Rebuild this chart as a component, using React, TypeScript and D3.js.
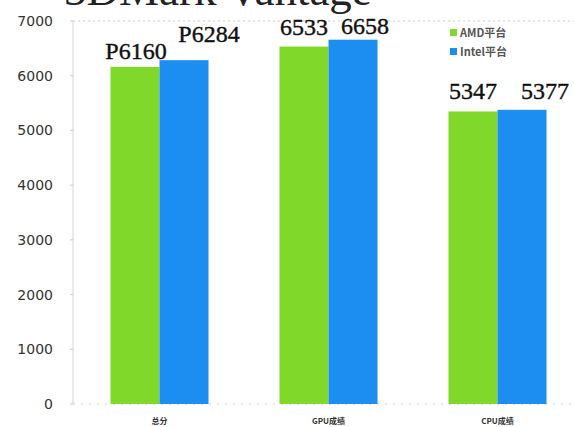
import React from "react";
import * as d3 from "d3";

const categories = ["总分", "GPU成绩", "CPU成绩"];
const seriesNames = ["AMD平台", "Intel平台"];
const amdValues = [6160, 6533, 5347];
const intelValues = [6284, 6658, 5377];
const amdLabels = ["P6160", "6533", "5347"];
const intelLabels = ["P6284", "6658", "5377"];
const yTicks = [0, 1000, 2000, 3000, 4000, 5000, 6000, 7000];
const title = "3DMark Vantage";

const W = 574;
const H = 427;
const colors = ["#7fd82a", "#1c8ef2"];
// label offsets (style only): [dx, dy] relative to bar center/top
const amdOffsets = [[1, -8], [0, -12], [0, -12]];
const intelOffsets = [[25, -18], [12, -6], [23, -11]];

export default function App() {
  const x = d3.scaleBand<string>().domain(categories).range([75, 582]).paddingInner(0.42).paddingOuter(0.21);
  const y = d3.scaleLinear().domain([0, 7000]).range([404, 21]);
  const bw = x.bandwidth() / 2;
  const axisX = 73;
  const series = [amdValues, intelValues];
  const labels = [amdLabels, intelLabels];
  const offsets = [amdOffsets, intelOffsets];

  return (
    <svg width={W} height={H} style={{ position: "absolute", left: 0, top: 0, background: "#fff" }}>
      <text x={64} y={5} fontFamily="Liberation Serif, serif" fontSize={45} fill="#222">{title}</text>
      <line x1={axisX} x2={W} y1={y(7000)} y2={y(7000)} stroke="#ccc" strokeDasharray="2,3" />
      <line x1={axisX} x2={W} y1={y(0)} y2={y(0)} stroke="#ccc" strokeDasharray="2,6" />
      <line x1={axisX} x2={axisX} y1={y(7000)} y2={y(0)} stroke="#d4d4d4" strokeWidth={1} />
      {yTicks.map((t) => (
        <g key={t}>
          <line x1={axisX - 3} x2={axisX} y1={y(t)} y2={y(t)} stroke="#ccc" />
          <text x={53} y={y(t)} dy="0.36em" textAnchor="end" fontFamily="DejaVu Sans, sans-serif" fontSize={14} fill="#333">{t}</text>
        </g>
      ))}
      {categories.map((c, i) => (
        <g key={c}>
          {series.map((vals, s) => {
            const bx = (x(c) as number) + s * bw;
            return (
              <g key={s}>
                <rect x={bx} y={y(vals[i])} width={bw} height={y(0) - y(vals[i])} fill={colors[s]} />
                <text
                  x={bx + bw / 2 + offsets[s][i][0]}
                  y={y(vals[i]) + offsets[s][i][1]}
                  textAnchor="middle"
                  fontFamily="Liberation Serif, serif"
                  fontSize={24}
                  fill="#111"
                  stroke="#111"
                  strokeWidth={0.4}
                >
                  {labels[s][i]}
                </text>
              </g>
            );
          })}
          <text x={(x(c) as number) + x.bandwidth() / 2} y={424} textAnchor="middle" fontFamily="Noto Sans CJK SC, sans-serif" fontSize={8} fontWeight="bold" fill="#333">{c}</text>
        </g>
      ))}
      {seriesNames.map((n, i) => (
        <g key={n}>
          <rect x={450} y={29 + i * 19} width={7} height={7} fill={colors[i]} />
          <text x={460} y={33 + i * 19} dy="0.36em" fontFamily="Noto Sans CJK SC, sans-serif" fontSize={11} fontWeight="bold" fill="#555">{n}</text>
        </g>
      ))}
    </svg>
  );
}
